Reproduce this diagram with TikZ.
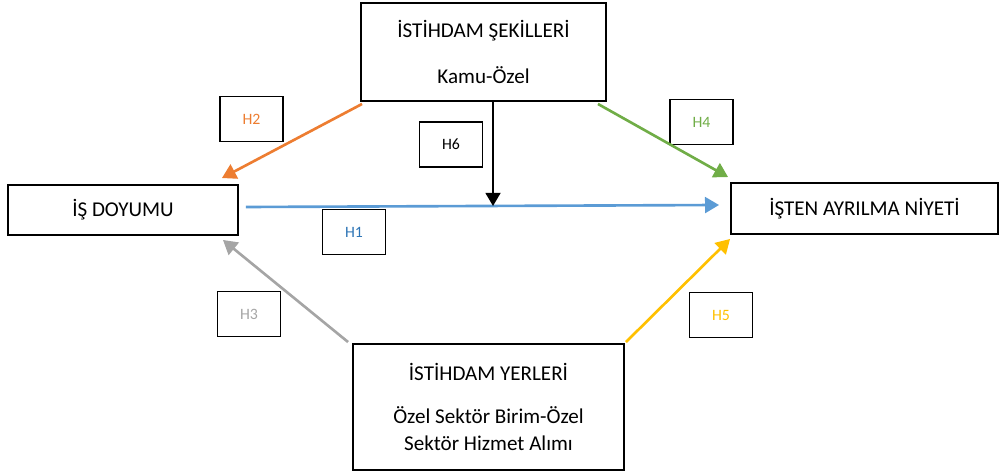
\documentclass[tikz,border=0pt]{standalone}
\usepackage{fontspec}
\setmainfont{Carlito}
\usepackage{tikz}
\usetikzlibrary{arrows.meta}
\definecolor{hOrange}{HTML}{ED7D31}
\definecolor{hGreen}{HTML}{70AD47}
\definecolor{hBlue}{HTML}{5B9BD5}
\definecolor{hBlueText}{HTML}{2E75B6}
\definecolor{hGray}{HTML}{A5A5A5}
\definecolor{hGold}{HTML}{FFC000}
\tikzset{
    box/.style = {draw, line width=1.1pt, inner sep=0pt, align=center,
                 font=\fontsize{12}{15}\selectfont},
    hbox/.style = {draw, line width=0.9pt, minimum width=1.26cm, minimum height=0.9cm,
                 font=\fontsize{9}{11}\selectfont},
    link/.style = {line width=1.5pt, -{Triangle[length=8pt,width=9pt]}},
}

\begin{document}
\begin{tikzpicture}[x=0.02cm, y=-0.02cm]
\useasboundingbox (0,0) rectangle (1000,472);
 \node (top)   [box, minimum width=4.9cm, minimum height=1.96cm] at (483.5,52)
       {İSTİHDAM ŞEKİLLERİ\\[11.5pt]Kamu-Özel};
 \node (doyum) [box, minimum width=4.6cm, minimum height=1cm] at (123,210) {İŞ DOYUMU};
 \node (niyet) [box, minimum width=5.34cm, minimum height=1.02cm] at (864.5,208.5) {İŞTEN AYRILMA NİYETİ};
 \node (yer)   [box, minimum width=5.42cm, minimum height=2.52cm] at (488.5,407)
       {İSTİHDAM YERLERİ\\[9.5pt]Özel Sektör Birim-Özel\\Sektör Hizmet Alımı};

 \node (h1) [hbox, text=hBlueText] at (354,232) {H1};
 \node (h2) [hbox, text=hOrange] at (251.5,119) {H2};
 \node (h3) [hbox, text=hGray] at (249,314) {H3};
 \node (h4) [hbox, text=hGreen] at (701.5,122) {H4};
 \node (h5) [hbox, text=hGold] at (721,315) {H5};
 \node (h6) [hbox] at (451,144.5) {H6};

\draw[link, hBlue] ([shift={(7,-3)}]doyum.east) to ([shift={(-11,-3.5)}]niyet.west);
\coordinate (hit) at ([shift={(9.5,0)}]top.south |- 0,206);
\draw[line width=1.2pt, -{Triangle[length=7.5pt,width=8.5pt]}] ([shift={(9.5,0)}]top.south) to (hit);
\draw[link, hOrange] ([shift={(2,2)}]top.south west) to ([shift={(-17,-6)}]doyum.north east);
\draw[link, hGreen] ([shift={(-9,2)}]top.south east) to ([shift={(-2,-5)}]niyet.north west);
\draw[link, hGray] ([shift={(-4,-1)}]yer.north west) to ([shift={(-16,4)}]doyum.south east);
\draw[link, hGold] ([shift={(1,-1)}]yer.north east) to ([shift={(0,4)}]niyet.south west);
\end{tikzpicture}
\end{document}
